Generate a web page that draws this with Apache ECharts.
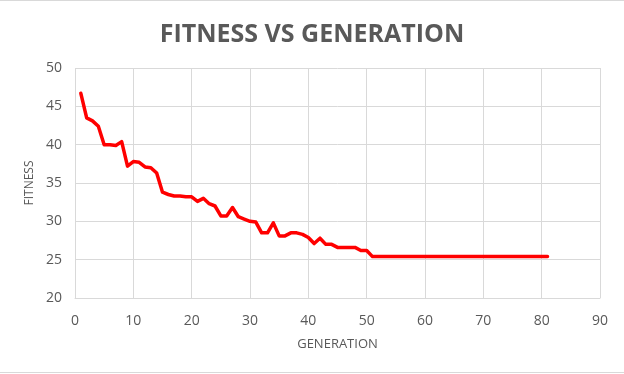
<!DOCTYPE html>
<html>
<head>
<meta charset="utf-8">
<script src="https://cdn.jsdelivr.net/npm/echarts@6/dist/echarts.min.js"></script>
<style>html,body{margin:0;padding:0;background:#fff}#c{width:624px;height:374px}</style>
</head>
<body>
<div id="c"></div>
<script>
var titleText = 'FITNESS VS GENERATION';
var xAxisName = 'GENERATION';
var yAxisName = 'FITNESS';
var generations = [];
for (var g = 1; g <= 81; g++) generations.push(g);
var fitnessHead = [46.7, 43.5, 43.1, 42.4, 40.0, 40.0, 39.9, 40.4, 37.2, 37.8,
  37.7, 37.1, 37.0, 36.3, 33.8, 33.5, 33.3, 33.3, 33.2, 33.2,
  32.6, 33.0, 32.3, 32.0, 30.7, 30.7, 31.8, 30.6, 30.3, 30.0,
  29.9, 28.5, 28.5, 29.8, 28.1, 28.1, 28.5, 28.5, 28.3, 27.9,
  27.1, 27.8, 27.0, 27.0, 26.6, 26.6, 26.6, 26.6, 26.2, 26.2];
var fitnessTail = [25.4, 25.4, 25.4, 25.4, 25.4, 25.4, 25.4, 25.4, 25.4, 25.4,
  25.4, 25.4, 25.4, 25.4, 25.4, 25.4, 25.4, 25.4, 25.4, 25.4,
  25.4, 25.4, 25.4, 25.4, 25.4, 25.4, 25.4, 25.4, 25.4, 25.4, 25.4];
var fitness = fitnessHead.concat(fitnessTail);

var data = generations.map(function (g, i) { return [g, fitness[i]]; });
var chart = echarts.init(document.getElementById('c'), null, {renderer: 'canvas'});
var txt = '#595959';
chart.setOption({
  animation: false,
  backgroundColor: '#fff',
  title: {
    text: titleText,
    left: 'center',
    top: 17,
    textStyle: {fontFamily: 'Open Sans', fontWeight: 'bold', fontSize: 25, color: txt}
  },
  graphic: [
    {type: 'line', shape: {x1: 0, y1: 0.5, x2: 624, y2: 0.5}, style: {stroke: '#d9d9d9', lineWidth: 1}},
    {type: 'line', shape: {x1: 0, y1: 372.5, x2: 624, y2: 372.5}, style: {stroke: '#d9d9d9', lineWidth: 1}}
  ],
  grid: {left: 75, right: 24, top: 68, bottom: 76},
  xAxis: {
    type: 'value', min: 0, max: 90, interval: 10,
    name: xAxisName, nameLocation: 'middle', nameGap: 40,
    nameTextStyle: {fontFamily: 'Open Sans', fontSize: 13, color: txt},
    axisLine: {show: true, lineStyle: {color: '#d9d9d9'}},
    axisTick: {show: false},
    axisLabel: {fontFamily: 'Open Sans', fontSize: 14, color: txt, margin: 16},
    splitLine: {show: true, lineStyle: {color: '#d9d9d9'}}
  },
  yAxis: {
    type: 'value', min: 20, max: 50, interval: 5,
    name: yAxisName, nameLocation: 'middle', nameGap: 38, nameRotate: 90,
    nameTextStyle: {fontFamily: 'Open Sans', fontSize: 12, color: txt},
    axisLine: {show: false},
    axisTick: {show: false},
    axisLabel: {fontFamily: 'Open Sans', fontSize: 14, color: txt, margin: 13},
    splitLine: {show: true, lineStyle: {color: '#d9d9d9'}}
  },
  series: [{
    type: 'line',
    data: data,
    showSymbol: false,
    symbol: 'none',
    lineStyle: {color: '#ff0000', width: 3.5, join: 'round', cap: 'round'}
  }]
});
</script>
</body>
</html>
